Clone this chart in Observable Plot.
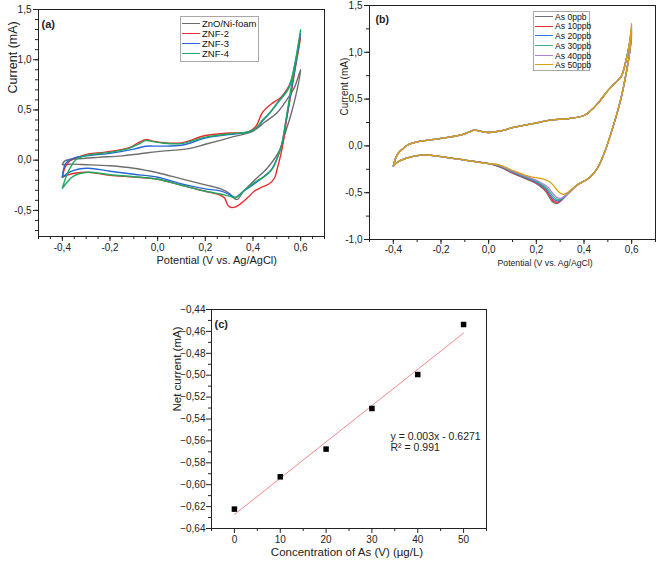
<!DOCTYPE html>
<html>
<head>
<meta charset="utf-8">
<script src="https://cdn.jsdelivr.net/npm/d3@7"></script>
<script src="https://cdn.jsdelivr.net/npm/@observablehq/plot@0.6"></script>
<style>
  html, body { margin: 0; padding: 0; background: #fff; }
  #root { position: relative; width: 661px; height: 562px; background: #fff; overflow: hidden;
          font-family: "Liberation Sans", Arial, sans-serif; }
  #root svg { position: absolute; overflow: visible; }
  .lg { position: absolute; border: 1px solid #a8a8a8; background: #fff; box-sizing: border-box; }
  .lg .sw { position: absolute; left: 1px; height: 0; border-top: 1.5px solid; }
  .lg .tx { position: absolute; transform: translateY(-50%); white-space: nowrap; color: #111; line-height: 1; }
</style>
</head>
<body>
<div id="root"></div>
<script>
// ---------------- Panel (a) data ----------------
const seriesA = ["ZnO/Ni-foam", "ZNF-2", "ZNF-3", "ZNF-4"];
const cvZnO = [[-0.4,-0.045],[-0.392,-0.012],[-0.375,0.004],[-0.34,0.013],[-0.25,0.028],[-0.15,0.043],[-0.08,0.062],[0,0.085],[0.13,0.115],[0.2,0.158],[0.3,0.222],[0.4,0.29],[0.45,0.38],[0.5,0.47],[0.547,0.62],[0.575,0.73],[0.6,0.9],
  [0.585,0.7],[0.56,0.46],[0.535,0.27],[0.512,0.1],[0.463,-0.07],[0.406,-0.2],[0.36,-0.31],[0.335,-0.39],[0.32,-0.378],[0.3,-0.33],[0.27,-0.29],[0.2,-0.246],[0.1,-0.186],[0,-0.125],[-0.1,-0.08],[-0.2,-0.056],[-0.3,-0.045],[-0.37,-0.04],[-0.4,-0.045]];
const cvZNF2 = [[-0.4,-0.17],[-0.39,-0.08],[-0.37,-0.01],[-0.34,0.025],[-0.29,0.062],[-0.22,0.08],[-0.12,0.125],[-0.08,0.175],[-0.05,0.205],[-0.02,0.19],[0.02,0.175],[0.1,0.172],[0.2,0.245],[0.3,0.27],[0.38,0.282],[0.41,0.33],[0.44,0.475],[0.477,0.56],[0.519,0.63],[0.561,0.79],[0.6,1.22],
  [0.58,0.95],[0.56,0.67],[0.54,0.39],[0.527,0.18],[0.517,0.06],[0.5,-0.1],[0.49,-0.18],[0.465,-0.24],[0.435,-0.27],[0.405,-0.31],[0.379,-0.37],[0.35,-0.43],[0.33,-0.462],[0.31,-0.472],[0.295,-0.45],[0.28,-0.375],[0.26,-0.345],[0.2,-0.31],[0.1,-0.25],[0,-0.19],[-0.1,-0.168],[-0.2,-0.15],[-0.29,-0.12],[-0.35,-0.13],[-0.38,-0.15],[-0.4,-0.17]];
const cvZNF3 = [[-0.4,-0.17],[-0.387,-0.036],[-0.36,0.014],[-0.32,0.037],[-0.2,0.068],[-0.1,0.11],[-0.05,0.138],[0,0.14],[0.1,0.148],[0.2,0.22],[0.3,0.255],[0.38,0.28],[0.41,0.31],[0.44,0.39],[0.47,0.47],[0.505,0.58],[0.55,0.72],[0.6,1.26],
  [0.58,0.97],[0.56,0.69],[0.54,0.41],[0.522,0.17],[0.51,0.07],[0.49,-0.04],[0.475,-0.1],[0.42,-0.21],[0.36,-0.31],[0.325,-0.37],[0.3,-0.34],[0.27,-0.31],[0.2,-0.286],[0.1,-0.236],[0,-0.17],[-0.1,-0.14],[-0.2,-0.11],[-0.29,-0.08],[-0.33,-0.088],[-0.37,-0.12],[-0.4,-0.17]];
const cvZNF4 = [[-0.4,-0.28],[-0.385,-0.17],[-0.37,-0.09],[-0.345,0.0],[-0.3,0.047],[-0.2,0.078],[-0.12,0.118],[-0.08,0.16],[-0.05,0.195],[-0.02,0.185],[0.02,0.17],[0.1,0.165],[0.2,0.23],[0.3,0.26],[0.38,0.28],[0.41,0.31],[0.44,0.4],[0.47,0.47],[0.505,0.575],[0.55,0.72],[0.6,1.3],
  [0.58,1.0],[0.56,0.72],[0.54,0.43],[0.522,0.17],[0.51,0.08],[0.49,-0.05],[0.477,-0.1],[0.45,-0.16],[0.42,-0.2],[0.364,-0.3],[0.33,-0.37],[0.31,-0.365],[0.28,-0.345],[0.2,-0.31],[0.1,-0.25],[0,-0.19],[-0.1,-0.165],[-0.2,-0.145],[-0.29,-0.12],[-0.33,-0.135],[-0.36,-0.17],[-0.38,-0.22],[-0.4,-0.28]];
const curvesA = [cvZnO, cvZNF2, cvZNF3, cvZNF4];
const colorsA = ["#6e6e6e", "#ee2a2a", "#2468d8", "#1fa860"];
const xTicksA = [-0.4, -0.2, 0, 0.2, 0.4, 0.6];
const xMinorA = [-0.5,-0.45,-0.4,-0.35,-0.3,-0.25,-0.2,-0.15,-0.1,-0.05,0,0.05,0.1,0.15,0.2,0.25,0.3,0.35,0.4,0.45,0.5,0.55,0.6,0.65,0.7];
const yTicksA = [-0.5, 0, 0.5, 1, 1.5];
const yMinorA = [-0.7,-0.6,-0.5,-0.4,-0.3,-0.2,-0.1,0,0.1,0.2,0.3,0.4,0.5,0.6,0.7,0.8,0.9,1,1.1,1.2,1.3,1.4,1.5];

// ---------------- Panel (b) data ----------------
const seriesB = ["As 0ppb", "As 10ppb", "As 20ppb", "As 30ppb", "As 40ppb", "As 50ppb"];
const forwardB = [[-0.4,-0.215],[-0.39,-0.13],[-0.38,-0.08],[-0.36,-0.03],[-0.34,0.01],[-0.3,0.043],[-0.2,0.08],[-0.12,0.115],[-0.08,0.15],[-0.06,0.168],[-0.04,0.16],[-0.02,0.147],[0,0.143],[0.05,0.16],[0.1,0.195],[0.18,0.235],[0.26,0.275],[0.33,0.29],[0.4,0.325],[0.43,0.38],[0.46,0.46],[0.5,0.59],[0.53,0.67],[0.556,0.74],[0.576,0.91],[0.59,1.08]];
const vertexB = [1.26, 1.22, 1.18, 1.24, 1.28, 1.31];
const reverseTopB = [[0.59,0.97],[0.575,0.75],[0.56,0.56],[0.542,0.38],[0.52,0.19],[0.5,0.03],[0.48,-0.11],[0.459,-0.225],[0.44,-0.295],[0.417,-0.35],[0.39,-0.39],[0.37,-0.42]];
const peakB0  = [[0.35,-0.47],[0.32,-0.545],[0.3,-0.595],[0.285,-0.617],[0.27,-0.603],[0.255,-0.55],[0.237,-0.48],[0.21,-0.42],[0.182,-0.38],[0.14,-0.335],[0.1,-0.29],[0.04,-0.22]];
const peakB10 = [[0.35,-0.468],[0.32,-0.54],[0.302,-0.585],[0.288,-0.602],[0.273,-0.59],[0.258,-0.54],[0.24,-0.475],[0.21,-0.41],[0.182,-0.372],[0.14,-0.328],[0.1,-0.285],[0.04,-0.215]];
const peakB20 = [[0.35,-0.466],[0.322,-0.535],[0.305,-0.573],[0.292,-0.588],[0.277,-0.577],[0.26,-0.53],[0.242,-0.465],[0.21,-0.4],[0.182,-0.365],[0.14,-0.322],[0.1,-0.28],[0.04,-0.21]];
const peakB30 = [[0.35,-0.464],[0.325,-0.528],[0.308,-0.562],[0.296,-0.574],[0.281,-0.563],[0.263,-0.515],[0.245,-0.455],[0.21,-0.39],[0.182,-0.357],[0.14,-0.315],[0.1,-0.275],[0.04,-0.207]];
const peakB40 = [[0.35,-0.462],[0.327,-0.52],[0.312,-0.55],[0.3,-0.56],[0.285,-0.548],[0.267,-0.5],[0.248,-0.44],[0.21,-0.38],[0.182,-0.35],[0.14,-0.308],[0.1,-0.27],[0.04,-0.203]];
const peakB50 = [[0.35,-0.46],[0.33,-0.5],[0.313,-0.517],[0.298,-0.5],[0.28,-0.45],[0.26,-0.39],[0.23,-0.355],[0.2,-0.34],[0.17,-0.325],[0.14,-0.3],[0.1,-0.26],[0.04,-0.2]];
const peaksB = [peakB0, peakB10, peakB20, peakB30, peakB40, peakB50];
const reverseTailB = [[0,-0.19],[-0.1,-0.152],[-0.2,-0.115],[-0.26,-0.097],[-0.3,-0.105],[-0.35,-0.135],[-0.38,-0.17],[-0.4,-0.215]];
const colorsB = ["#707070", "#f42a2a", "#2f7de1", "#3fb27f", "#b07fd8", "#d9a010"];
const xTicksB = [-0.4, -0.2, 0, 0.2, 0.4, 0.6];
const xMinorB = [-0.5,-0.4,-0.3,-0.2,-0.1,0,0.1,0.2,0.3,0.4,0.5,0.6,0.7];
const yTicksB = [-1, -0.5, 0, 0.5, 1, 1.5];
const yMinorB = [-1,-0.75,-0.5,-0.25,0,0.25,0.5,0.75,1,1.25,1.5];

// ---------------- Panel (c) data ----------------
const concC = [0, 10, 20, 30, 40, 50];
const netCurrentC = [-0.6223, -0.5928, -0.5675, -0.5304, -0.4994, -0.4537];
const xTicksC = [0, 10, 20, 30, 40, 50];
const xMinorC = [-5, 5, 15, 25, 35, 45, 55];
const yTicksC = [-0.64, -0.62, -0.6, -0.58, -0.56, -0.54, -0.52, -0.5, -0.48, -0.46, -0.44];
const yMinorC = [-0.63, -0.61, -0.59, -0.57, -0.55, -0.53, -0.51, -0.49, -0.47, -0.45];
const fitText = ["y = 0.003x - 0.6271", "R² = 0.991"];

// ---------------- helpers ----------------
const FONT = '"Liberation Sans", Arial, sans-serif';
const fmtA = d => (d < 0 ? "-" : "") + Math.abs(d).toFixed(1).replace(".", ",");
const fmtC = d => (d < 0 ? "\u2212" : "") + Math.abs(d).toFixed(2).replace(".", ",");
const none = () => "";
const root = document.getElementById("root");

function place(svg, left, top) {
  svg.style.left = left + "px";
  svg.style.top = top + "px";
  root.appendChild(svg);
}

function legend(items, colors, o) {
  const box = document.createElement("div");
  box.className = "lg";
  Object.assign(box.style, {left: o.left + "px", top: o.top + "px", width: o.width + "px", height: o.height + "px", fontSize: o.fontSize + "px"});
  items.forEach((name, k) => {
    const cy = o.first + k * o.step;
    const sw = document.createElement("div");
    sw.className = "sw";
    Object.assign(sw.style, {top: (cy - 0.75) + "px", width: o.sw + "px", borderTopColor: colors[k]});
    const tx = document.createElement("div");
    tx.className = "tx";
    tx.textContent = name;
    Object.assign(tx.style, {top: cy + "px", left: (o.sw + 3) + "px"});
    box.appendChild(sw); box.appendChild(tx);
  });
  root.appendChild(box);
}

// ---------------- Panel (a) ----------------
const tableA = curvesA.flatMap((pts, s) => pts.map(([v, i]) => ({v, i, s: seriesA[s]})));
const plotA = Plot.plot({
  width: 330, height: 275,
  marginLeft: 38, marginRight: 6, marginTop: 9, marginBottom: 39,
  x: {domain: [-0.5, 0.7]},
  y: {domain: [-0.76, 1.5]},
  color: {domain: seriesA, range: colorsA},
  style: {fontFamily: FONT, fontSize: "10px", color: "#222", background: "transparent"},
  marks: [
    Plot.axisX({ticks: xMinorA, tickSize: 3, tickFormat: none, label: null}),
    Plot.axisX({ticks: xTicksA, tickSize: 5, tickPadding: 2, tickFormat: fmtA, label: null}),
    Plot.axisY({ticks: yMinorA, tickSize: 3, tickFormat: none, label: null}),
    Plot.axisY({ticks: yTicksA, tickSize: 5, tickPadding: 2, tickFormat: fmtA, label: null}),
    Plot.line(tableA, {x: "v", y: "i", z: "s", stroke: "s", strokeWidth: 1.4, curve: "catmull-rom"}),
    Plot.frame({stroke: "#222", strokeWidth: 1}),
    Plot.text(["(a)"], {text: d => d, frameAnchor: "top-left", dx: 3, dy: 11, textAnchor: "start", fontWeight: "bold", fontSize: 11}),
    Plot.text(["Current (mA)"], {text: d => d, frameAnchor: "top-left", dx: -30, dy: 84, rotate: -90, fontSize: 12.5}),
    Plot.text(["Potential (V vs. Ag/AgCl)"], {text: d => d, frameAnchor: "bottom-left", dx: 118, dy: 27, fontSize: 11})
  ]
});
place(plotA, 0, 0);
legend(seriesA, colorsA, {left: 180, top: 16, width: 79, height: 46, fontSize: 9.5, first: 7, step: 10, sw: 18});

// ---------------- Panel (b) ----------------
const curvesB = seriesB.map((name, s) => [...forwardB, [0.6, vertexB[s]], ...reverseTopB, ...peaksB[s], ...reverseTailB]);
const tableB = curvesB.flatMap((pts, s) => pts.map(([v, i]) => ({v, i, s: seriesB[s]})));
const plotB = Plot.plot({
  width: 331, height: 275,
  marginLeft: 39, marginRight: 6, marginTop: 5, marginBottom: 36,
  x: {domain: [-0.5, 0.7]},
  y: {domain: [-1, 1.5]},
  color: {domain: seriesB, range: colorsB},
  style: {fontFamily: FONT, fontSize: "10px", color: "#222", background: "transparent"},
  marks: [
    Plot.axisX({ticks: xMinorB, tickSize: 3, tickFormat: none, label: null}),
    Plot.axisX({ticks: xTicksB, tickSize: 5, tickPadding: 1, tickFormat: fmtA, label: null}),
    Plot.axisY({ticks: yMinorB, tickSize: 3, tickFormat: none, label: null}),
    Plot.axisY({ticks: yTicksB, tickSize: 5, tickPadding: 2, tickFormat: fmtA, label: null}),
    Plot.line(tableB, {x: "v", y: "i", z: "s", stroke: "s", strokeWidth: 1.3, curve: "catmull-rom"}),
    Plot.frame({stroke: "#222", strokeWidth: 1}),
    Plot.text(["(b)"], {text: d => d, frameAnchor: "top-left", dx: 6, dy: 10, textAnchor: "start", fontWeight: "bold", fontSize: 10.5}),
    Plot.text(["Current (mA)"], {text: d => d, frameAnchor: "top-left", dx: -29, dy: 110, rotate: -90, fontSize: 10}),
    Plot.text(["Potential (V vs. Ag/AgCl)"], {text: d => d, frameAnchor: "bottom-left", dx: 128, dy: 26, fontSize: 8.7})
  ]
});
place(plotB, 330, 0);
legend(seriesB, colorsB, {left: 533, top: 11, width: 57, height: 60, fontSize: 8.6, first: 4.7, step: 9.7, sw: 18});

// ---------------- Panel (c) ----------------
const tableC = concC.map((c, k) => ({c, y: netCurrentC[k]}));
const plotC = Plot.plot({
  width: 380, height: 282,
  marginLeft: 61, marginRight: 44, marginTop: 29, marginBottom: 34,
  x: {domain: [-5, 55]},
  y: {domain: [-0.64, -0.44]},
  style: {fontFamily: FONT, fontSize: "10px", color: "#222", background: "transparent"},
  marks: [
    Plot.axisX({ticks: xMinorC, tickSize: 3, tickFormat: none, label: null}),
    Plot.axisX({ticks: xTicksC, tickSize: 5, tickPadding: 2, tickFormat: d => String(d), label: null}),
    Plot.axisY({ticks: yMinorC, tickSize: 3, tickFormat: none, label: null}),
    Plot.axisY({ticks: yTicksC, tickSize: 5, tickPadding: 1, tickFormat: fmtC, label: null}),
    Plot.linearRegressionY(tableC, {x: "c", y: "y", stroke: "#f08a8a", strokeWidth: 1, ci: 0}),
    Plot.dot(tableC, {x: "c", y: "y", symbol: "square", fill: "#000", r: 3.1}),
    Plot.frame({stroke: "#222", strokeWidth: 1}),
    Plot.text(["(c)"], {text: d => d, frameAnchor: "top-left", dx: 3, dy: 11, textAnchor: "start", fontWeight: "bold", fontSize: 11}),
    Plot.text([fitText.join("\n")], {text: d => d, frameAnchor: "top-left", dx: 179, dy: 122, textAnchor: "start", fontSize: 10.5, lineHeight: 1.1, lineAnchor: "top"}),
    Plot.text(["Net current (mA)"], {text: d => d, frameAnchor: "top-left", dx: -39, dy: 102, rotate: -90, fontSize: 11.5}),
    Plot.text(["Concentration of As (V) (\u00b5g/L)"], {text: d => d, frameAnchor: "bottom", dx: -2, dy: 27, fontSize: 11.5})
  ]
});
place(plotC, 150, 280);
</script>
</body>
</html>
